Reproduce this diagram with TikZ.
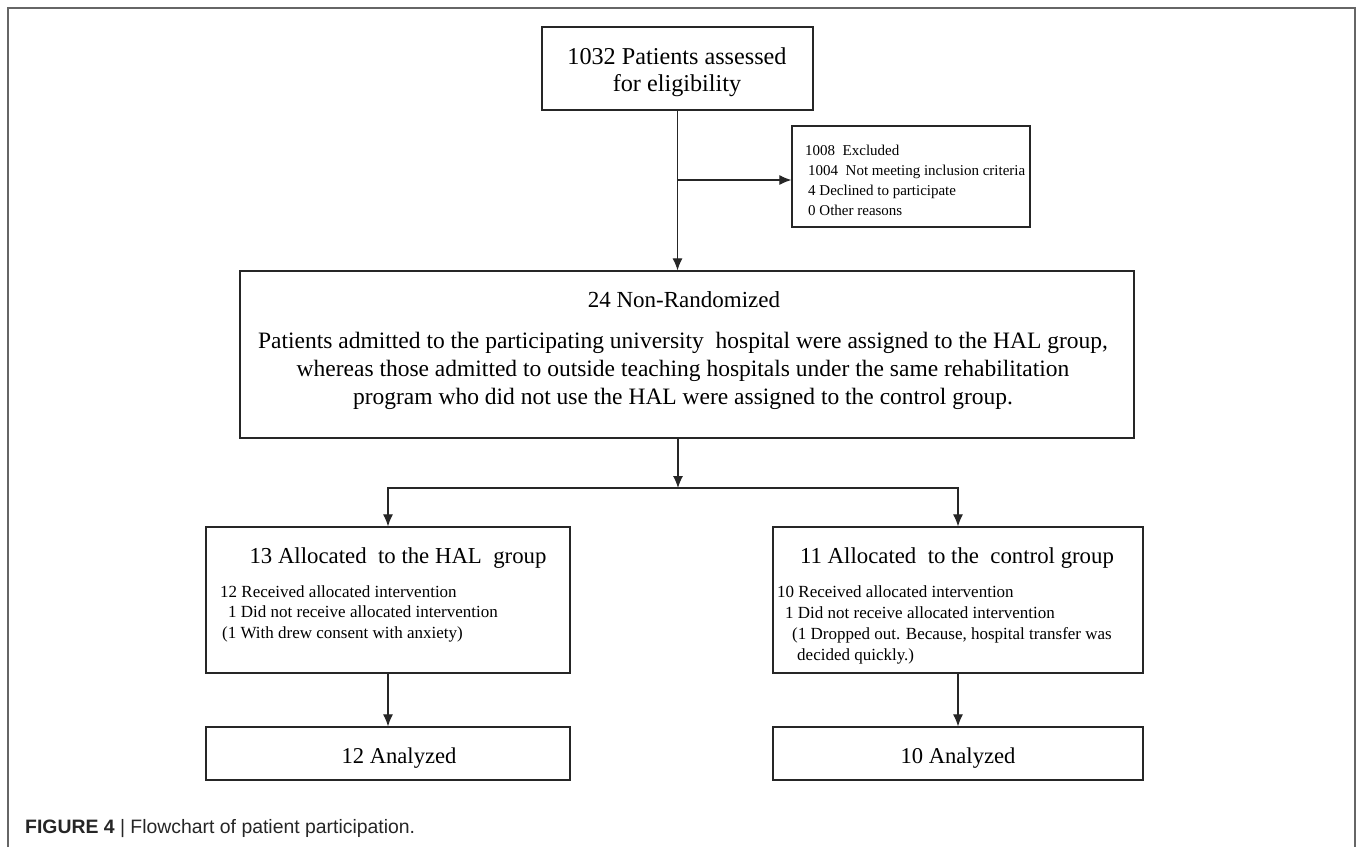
\documentclass[tikz,border=0pt]{standalone}
\usepackage{fontspec}
\setmainfont{Liberation Serif}
\newfontfamily\capfont{Liberation Sans}
\usetikzlibrary{arrows.meta}
\tikzset{
  box/.style={draw=black!85, line width=1.3pt, inner sep=0pt, rectangle},
  conn/.style={draw=black!85, line width=1.1pt},
  arr/.style={conn, -{Latex[length=12pt,width=10pt]}},
  txt/.style={inner sep=0pt, text=black},
}
\newcommand{\fs}[2]{\fontsize{#1}{#2}\selectfont}
\begin{document}
\begin{tikzpicture}[x=1pt,y=-1pt]
\useasboundingbox (0,0) rectangle (1358,847);
\fill[white] (0,0) rectangle (1358,847);
% outer frame (open at bottom)
\draw[black!60, line width=1.6pt] (8,847) -- (8,8) -- (1355,8) -- (1355,847);

% boxes
\node[box, minimum width=271pt, minimum height=83pt] (top) at (677.5,68.5) {};
\node[box, minimum width=238pt, minimum height=101pt] (excl) at (911,176.5) {};
\node[box, minimum width=894pt, minimum height=167pt] (nonrand) at (687,354.5) {};
\node[box, minimum width=364pt, minimum height=146pt] (hal) at (388,600) {};
\node[box, minimum width=370pt, minimum height=146pt] (ctrl) at (958,600) {};
\node[box, minimum width=364pt, minimum height=53pt] (halA) at (388,753.5) {};
\node[box, minimum width=370pt, minimum height=53pt] (ctrlA) at (958,753.5) {};

% texts
\node[txt, anchor=base, font=\fs{24.2}{27}] (topT) at (677,64)
  {\begin{tabular}[t]{@{}c@{}}1032 Patients assessed\\for eligibility\end{tabular}};
\node[txt, anchor=base west, font=\fs{15}{20}] (exclT) at (805,155)
  {\begin{tabular}[t]{@{}l@{}}1008\ \ Excluded\\
   \hspace{3pt}1004\ \ Not meeting inclusion criteria\\
   \hspace{3pt}4 Declined to participate\\
   \hspace{3pt}0 Other reasons\end{tabular}};
\node[txt, anchor=base, font=\fs{23}{28}] (nonT1) at (684,307) {24 Non-Randomized};
\node[txt, anchor=base, font=\fs{23.5}{28.3}] (nonT2) at (683,348.3)
  {\begin{tabular}[t]{@{}c@{}}Patients admitted to the participating university\ \ hospital were assigned to the HAL group,\\
   whereas those admitted to outside teaching hospitals under the same rehabilitation\\
   program who did not use the HAL were assigned to the control group.\end{tabular}};
\node[txt, anchor=base, font=\fs{22.8}{26}] (halTitle) at (398,563) {13 Allocated\ \ to the HAL\ \ group};
\node[txt, anchor=base west, font=\fs{17}{20.5}] (halT) at (220,597)
  {\begin{tabular}[t]{@{}l@{}}12 Received allocated intervention\\
   \hspace{8pt}1 Did not receive allocated intervention\\
   \hspace{2pt}(1 With drew consent with anxiety)\end{tabular}};
\node[txt, anchor=base, font=\fs{22.8}{26}] (ctrlTitle) at (957,563) {11 Allocated\ \ to the\ \ control group};
\node[txt, anchor=base west, font=\fs{17}{21}] (ctrlT) at (777,597)
  {\begin{tabular}[t]{@{}l@{}}10 Received allocated intervention\\
   \hspace{8pt}1 Did not receive allocated intervention\\
   \hspace{15pt}(1 Dropped out. Because, hospital transfer was\\
   \hspace{20pt}decided quickly.)\end{tabular}};
\node[txt, anchor=base, font=\fs{22.6}{26}] (halAT) at (399,763) {12 Analyzed};
\node[txt, anchor=base, font=\fs{22.6}{26}] (ctrlAT) at (958,763) {10 Analyzed};

\node[txt, anchor=base west, font=\capfont\fs{19.4}{22}, text=black!85] (cap) at (25,833)
  {\textbf{FIGURE 4} | Flowchart of patient participation.};

% connectors
\coordinate (b) at (677.5,180);
\coordinate (j) at (678,488);
\draw[arr] (top.south) -- (top.south |- nonrand.north);
\draw[arr] (b) -- (b -| excl.west);
\draw[arr] (j |- nonrand.south) -- (j);
\draw[arr] (j) -| (hal.north);
\draw[arr] (j) -| (ctrl.north);
\draw[arr] (hal.south) -- (halA.north);
\draw[arr] (ctrl.south) -- (ctrlA.north);
\end{tikzpicture}
\end{document}
